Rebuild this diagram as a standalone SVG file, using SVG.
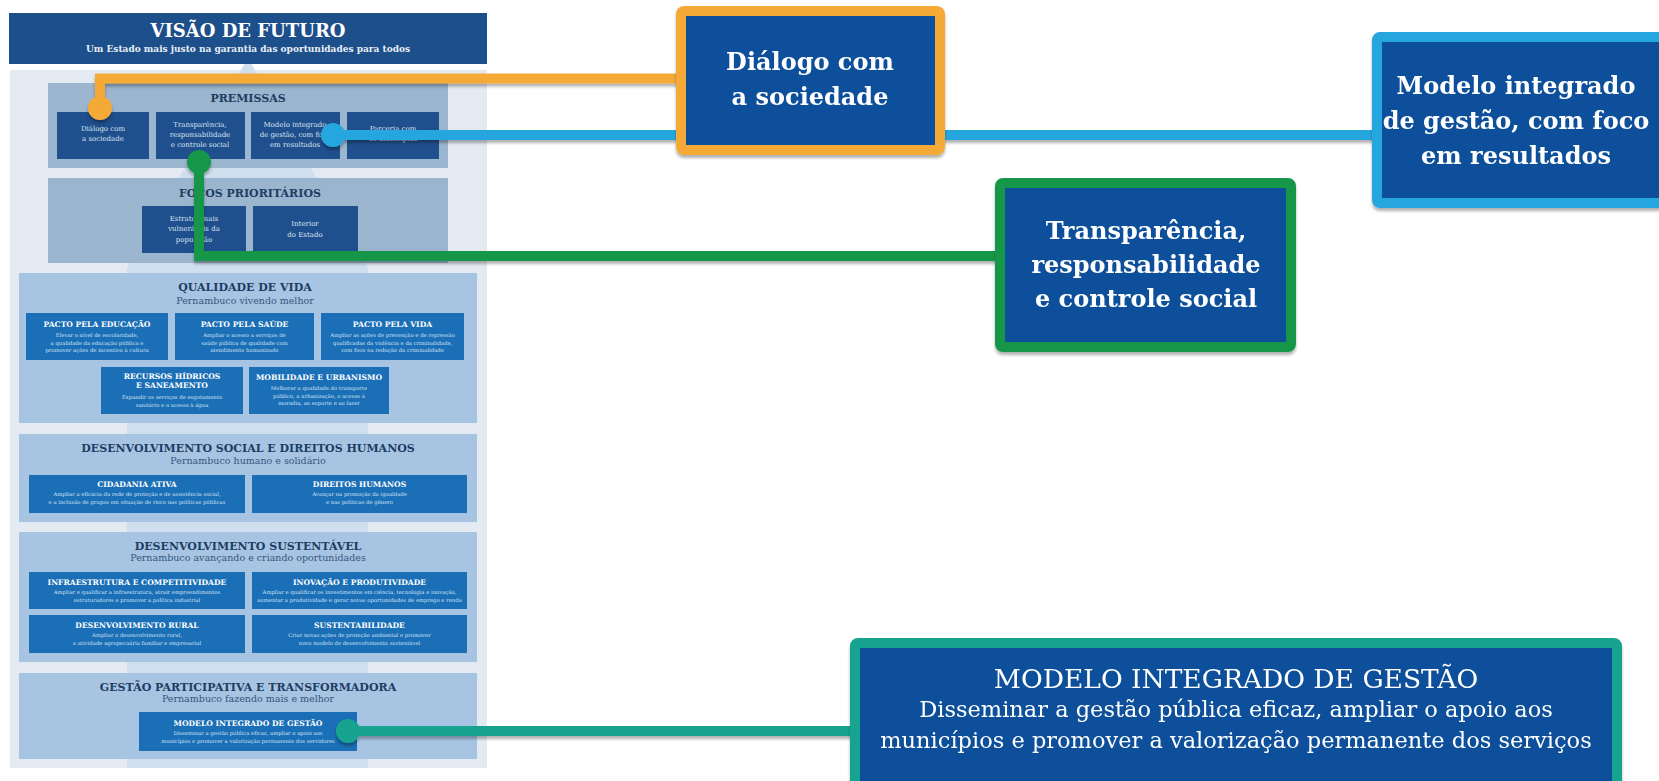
<svg xmlns="http://www.w3.org/2000/svg" width="1659" height="781" viewBox="0 0 1659 781">
<defs>
<filter id="sh" x="-5%" y="-50%" width="110%" height="200%">
<feDropShadow dx="0" dy="3" stdDeviation="1.5" flood-color="#000" flood-opacity="0.3"/>
</filter>
<style>
text{font-family:"DejaVu Serif","Liberation Serif",serif;text-anchor:middle}
.hdr{fill:#1d4f8a}
.panel{fill:#e3eaf2}
.band{fill:#d0dfee}
.grey{fill:#9bb5ce}
.sect{fill:#a7c5e3}
.dk{fill:#1f4f8c}
.md{fill:#1b6fb6}
.h1{font-size:18px;font-weight:bold;fill:#fff}
.h1s{font-size:9px;font-weight:bold;fill:#e8eef6}
.st{font-size:11px;font-weight:bold;fill:#1e3d63}
.ss{font-size:9.5px;fill:#34567c}
.pi{font-size:7px;fill:#d9e4f1}
.bt{font-size:7.6px;font-weight:bold;fill:#fff}
.bd{font-size:5.3px;fill:#cfe0f3}
.co{fill:#0b4f9a;stroke-width:10}
.ct{font-size:24px;font-weight:bold;fill:#fff}
.tt{font-size:26.5px;fill:#fff}
.td{font-size:22.5px;fill:#fff}
.ln{fill:none;stroke-width:10;stroke-linejoin:miter;stroke-linecap:butt}
</style>
</defs>
<rect width="1659" height="781" fill="#ffffff"/>

<g id="strategy-map">
<rect class="panel" x="10" y="70" width="477" height="698"/>
<polygon class="band" points="248,58 368,268 368,768 127,768 127,268"/>
<g id="visao">
<rect class="hdr" x="9" y="13" width="478" height="51"/>
<text class="h1" x="248" y="37">VISÃO DE FUTURO</text>
<text class="h1s" x="248" y="52">Um Estado mais justo na garantia das oportunidades para todos</text>
</g>
<g id="premissas">
<rect class="grey" x="48" y="83" width="400" height="85"/>
<text class="st" x="248" y="102">PREMISSAS</text>
<rect class="dk" x="57" y="112" width="92" height="47"/>
<text class="pi" x="103" y="131">Diálogo com</text>
<text class="pi" x="103" y="141">a sociedade</text>
<rect class="dk" x="156" y="112" width="89" height="47"/>
<text class="pi" x="200" y="127">Transparência,</text>
<text class="pi" x="200" y="137">responsabilidade</text>
<text class="pi" x="200" y="147">e controle social</text>
<rect class="dk" x="251" y="112" width="89" height="47"/>
<text class="pi" x="295" y="127">Modelo integrado</text>
<text class="pi" x="295" y="137">de gestão, com foco</text>
<text class="pi" x="295" y="147">em resultados</text>
<rect class="dk" x="347" y="112" width="92" height="47"/>
<text class="pi" x="393" y="131">Parceria com</text>
<text class="pi" x="393" y="141">os municípios</text>
</g>
<g id="focos">
<rect class="grey" x="48" y="178" width="400" height="85"/>
<text class="st" x="250" y="197">FOCOS PRIORITÁRIOS</text>
<rect class="dk" x="142" y="206" width="104" height="47"/>
<text class="pi" x="194" y="221">Estratos mais</text>
<text class="pi" x="194" y="231">vulneráveis da</text>
<text class="pi" x="194" y="242">população</text>
<rect class="dk" x="253" y="206" width="105" height="47"/>
<text class="pi" x="305" y="226">Interior</text>
<text class="pi" x="305" y="237">do Estado</text>
</g>
<g id="qualidade">
<rect class="sect" x="19" y="273" width="458" height="150"/>
<text class="st" x="245" y="291">QUALIDADE DE VIDA</text>
<text class="ss" x="245" y="304">Pernambuco vivendo melhor</text>
<rect class="md" x="26" y="313" width="142" height="47"/>
<text class="bt" x="97" y="327">PACTO PELA EDUCAÇÃO</text>
<text class="bd" x="97" y="337">Elevar o nível de escolaridade,</text>
<text class="bd" x="97" y="344.5">a qualidade da educação pública e</text>
<text class="bd" x="97" y="352">promover ações de incentivo à cultura</text>
<rect class="md" x="175" y="313" width="139" height="47"/>
<text class="bt" x="244.5" y="327">PACTO PELA SAÚDE</text>
<text class="bd" x="244.5" y="337">Ampliar o acesso a serviços de</text>
<text class="bd" x="244.5" y="344.5">saúde pública de qualidade com</text>
<text class="bd" x="244.5" y="352">atendimento humanizado</text>
<rect class="md" x="321" y="313" width="143" height="47"/>
<text class="bt" x="392.5" y="327">PACTO PELA VIDA</text>
<text class="bd" x="392.5" y="337">Ampliar as ações de prevenção e de repressão</text>
<text class="bd" x="392.5" y="344.5">qualificadas da violência e da criminalidade,</text>
<text class="bd" x="392.5" y="352">com foco na redução da criminalidade</text>
<rect class="md" x="101" y="367" width="142" height="47"/>
<text class="bt" x="172" y="379">RECURSOS HÍDRICOS</text>
<text class="bt" x="172" y="388">E SANEAMENTO</text>
<text class="bd" x="172" y="399">Expandir os serviços de esgotamento</text>
<text class="bd" x="172" y="406.5">sanitário e o acesso à água</text>
<rect class="md" x="249" y="367" width="140" height="47"/>
<text class="bt" x="319" y="380">MOBILIDADE E URBANISMO</text>
<text class="bd" x="319" y="390">Melhorar a qualidade do transporte</text>
<text class="bd" x="319" y="397.5">público, a urbanização, o acesso à</text>
<text class="bd" x="319" y="405">moradia, ao esporte e ao lazer</text>
</g>
<g id="social">
<rect class="sect" x="19" y="434" width="458" height="88"/>
<text class="st" x="248" y="452">DESENVOLVIMENTO SOCIAL E DIREITOS HUMANOS</text>
<text class="ss" x="248" y="464">Pernambuco humano e solidário</text>
<rect class="md" x="29" y="475" width="216" height="38"/>
<text class="bt" x="137" y="487">CIDADANIA ATIVA</text>
<text class="bd" x="137" y="496">Ampliar a eficácia da rede de proteção e de assistência social,</text>
<text class="bd" x="137" y="504">e a inclusão de grupos em situação de risco nas políticas públicas</text>
<rect class="md" x="252" y="475" width="215" height="38"/>
<text class="bt" x="359.5" y="487">DIREITOS HUMANOS</text>
<text class="bd" x="359.5" y="496">Avançar na promoção da igualdade</text>
<text class="bd" x="359.5" y="504">e nas políticas de gênero</text>
</g>
<g id="sustentavel">
<rect class="sect" x="19" y="532" width="458" height="130"/>
<text class="st" x="248" y="550">DESENVOLVIMENTO SUSTENTÁVEL</text>
<text class="ss" x="248" y="561">Pernambuco avançando e criando oportunidades</text>
<rect class="md" x="29" y="572" width="216" height="37"/>
<text class="bt" x="137" y="585">INFRAESTRUTURA E COMPETITIVIDADE</text>
<text class="bd" x="137" y="593.5">Ampliar e qualificar a infraestrutura, atrair empreendimentos</text>
<text class="bd" x="137" y="601.5">estruturadores e promover a política industrial</text>
<rect class="md" x="252" y="572" width="215" height="37"/>
<text class="bt" x="359.5" y="585">INOVAÇÃO E PRODUTIVIDADE</text>
<text class="bd" x="359.5" y="593.5">Ampliar e qualificar os investimentos em ciência, tecnologia e inovação,</text>
<text class="bd" x="359.5" y="601.5">aumentar a produtividade e gerar novas oportunidades de emprego e renda</text>
<rect class="md" x="29" y="615" width="216" height="38"/>
<text class="bt" x="137" y="628">DESENVOLVIMENTO RURAL</text>
<text class="bd" x="137" y="636.5">Ampliar o desenvolvimento rural,</text>
<text class="bd" x="137" y="644.5">a atividade agropecuária familiar e empresarial</text>
<rect class="md" x="252" y="615" width="215" height="38"/>
<text class="bt" x="359.5" y="628">SUSTENTABILIDADE</text>
<text class="bd" x="359.5" y="636.5">Criar novas ações de proteção ambiental e promover</text>
<text class="bd" x="359.5" y="644.5">novo modelo de desenvolvimento sustentável</text>
</g>
<g id="gestao">
<rect class="sect" x="19" y="673" width="458" height="86"/>
<text class="st" x="248" y="691">GESTÃO PARTICIPATIVA E TRANSFORMADORA</text>
<text class="ss" x="248" y="702">Pernambuco fazendo mais e melhor</text>
<rect class="md" x="139" y="712" width="218" height="39"/>
<text class="bt" x="248" y="726">MODELO INTEGRADO DE GESTÃO</text>
<text class="bd" x="248" y="734.5">Disseminar a gestão pública eficaz, ampliar o apoio aos</text>
<text class="bd" x="248" y="742.5">municípios e promover a valorização permanente dos servidores</text>
</g>
</g>

<g id="connectors" filter="url(#sh)">
<polyline class="ln" stroke="#27a6df" points="333,135 1375,135"/>
<polyline class="ln" stroke="#f5aa38" points="100,108 100,78.5 680,78.5"/>
<polyline class="ln" stroke="#14964a" points="199,162 199,256 1000,256"/>
<polyline class="ln" stroke="#16a491" points="348,731 855,731"/>
<circle cx="100" cy="108" r="12" fill="#f5aa38"/>
<circle cx="333" cy="135" r="12" fill="#27a6df"/>
<circle cx="199" cy="162" r="12" fill="#14964a"/>
<circle cx="348" cy="731" r="12" fill="#16a491"/>
</g>

<g id="dialogo" filter="url(#sh)">
<rect class="co" x="681" y="11" width="259" height="139" rx="3" stroke="#f5aa38"/>
<text class="ct" x="810" y="70">Diálogo com</text>
<text class="ct" x="810" y="105">a sociedade</text>
</g>
<g id="modelo" filter="url(#sh)">
<rect class="co" x="1377" y="37" width="292" height="166" rx="3" stroke="#27a6df"/>
<text class="ct" x="1516" y="94">Modelo integrado</text>
<text class="ct" x="1516" y="129">de gestão, com foco</text>
<text class="ct" x="1516" y="164">em resultados</text>
</g>
<g id="transparencia" filter="url(#sh)">
<rect class="co" x="1000" y="183" width="291" height="164" rx="3" stroke="#14964a"/>
<text class="ct" x="1146" y="239">Transparência,</text>
<text class="ct" x="1146" y="273">responsabilidade</text>
<text class="ct" x="1146" y="307">e controle social</text>
</g>
<g id="modelo-gestao" filter="url(#sh)">
<rect class="co" x="855" y="643" width="762" height="150" rx="3" stroke="#16a491"/>
<text class="tt" x="1236" y="688">MODELO INTEGRADO DE GESTÃO</text>
<text class="td" x="1236" y="717">Disseminar a gestão pública eficaz, ampliar o apoio aos</text>
<text class="td" x="1236" y="748">municípios e promover a valorização permanente dos serviços</text>
</g>
</svg>
